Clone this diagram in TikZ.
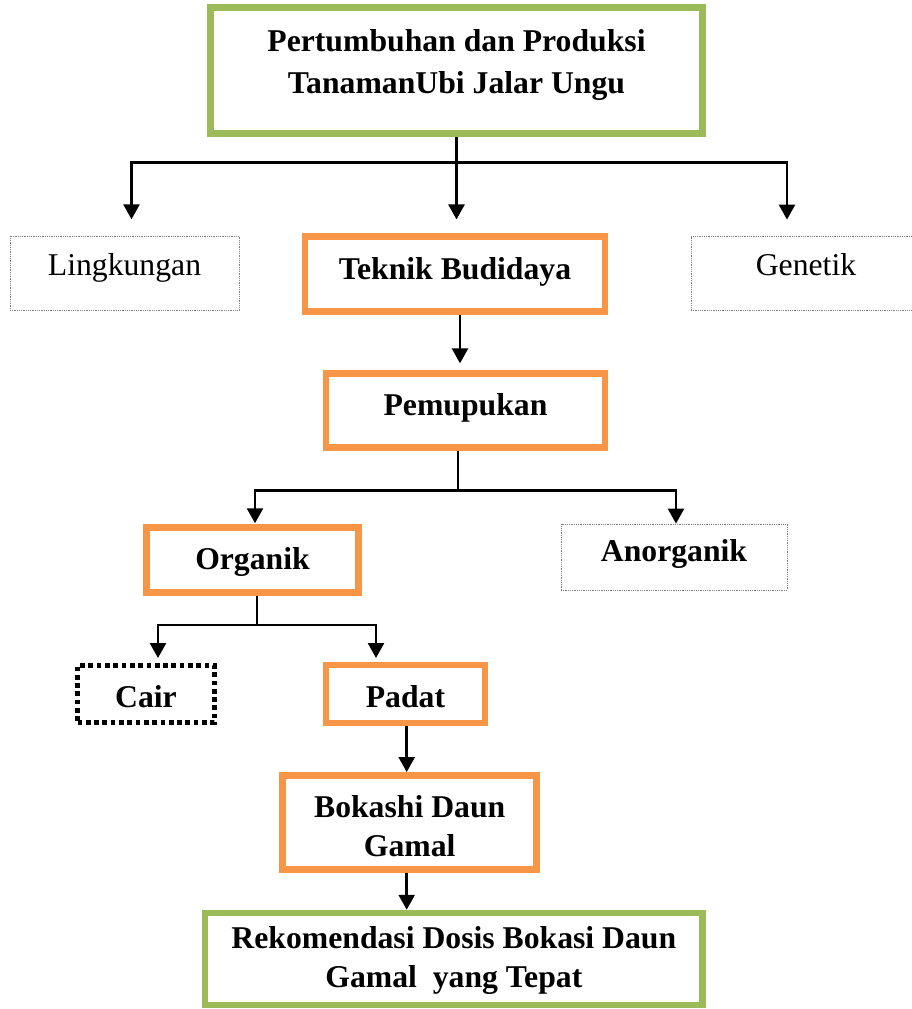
\documentclass[tikz,border=0pt]{standalone}
\usepackage{fontspec}
\setmainfont{Liberation Serif}
\usetikzlibrary{arrows.meta}

\definecolor{hijau}{HTML}{9BBB59}
\definecolor{oranye}{HTML}{F79646}

\tikzset{
    kotakhijau/.style={draw=hijau, line width=6.5pt, inner sep=0pt, align=center, font=\bfseries},
    kotakoranye/.style={draw=oranye, line width=6.5pt, inner sep=0pt, align=center, font=\bfseries},
    kotaktitik/.style={draw=gray, densely dotted, line width=0.8pt, inner sep=0pt},
    kotakcair/.style={draw=black, line width=5pt, dash pattern=on 4.7pt off 3.6pt, inner sep=0pt, font=\bfseries},
    rapat/.style={font=\bfseries\fontsize{31.7}{38.6}\selectfont},
    garis/.style={line width=2.5pt},
    panah/.style={line width=2.5pt, -{Triangle[width=16pt,length=15pt]}}
}

\begin{document}
\fontsize{31.7}{41.5}\selectfont
\begin{tikzpicture}[x=1pt,y=-1pt]
                \clip (0,0) rectangle (912,1009);

                \node[kotakhijau, minimum width=492pt, text height=85.8pt, text depth=40.2pt] (utama) at (456.5,70.5) {Pertumbuhan dan Produksi\\TanamanUbi Jalar Ungu};

                \node[kotaktitik, minimum width=229pt, text height=39pt, text depth=35.7pt] (lingkungan) at (124.5,273.35) {Lingkungan};
                \node[kotakoranye, minimum width=300pt, text height=42.6pt, text depth=32.4pt] (teknik) at (455,274.2) {Teknik Budidaya};
                \node[kotaktitik, minimum width=230pt, text height=39pt, text depth=35pt] (genetik) at (806,273) {Genetik};

                \node[kotakoranye, minimum width=279pt, text height=41.7pt, text depth=32.7pt] (pemupukan) at (465.5,410.5) {Pemupukan};

                \node[kotakoranye, minimum width=211.6pt, text height=41.8pt, text depth=23.4pt] (organik) at (252.5,560.1) {Organik};
                \node[kotaktitik, font=\bfseries, minimum width=226pt, text height=37.7pt, text depth=28.3pt] (anorganik) at (674,557) {Anorganik};

                \node[kotakcair, minimum width=137pt, text height=41.8pt, text depth=15.2pt] (cair) at (146,694) {Cair};
                \node[kotakoranye, minimum width=159pt, text height=42.3pt, text depth=15.7pt] (padat) at (405.5,694) {Padat};

                \node[kotakoranye, rapat, minimum width=254pt, text height=80.7pt, text depth=13.3pt] (bokashi) at (409.7,822.3) {Bokashi Daun\\Gamal};
                \node[kotakhijau, rapat, minimum width=497.7pt, text height=74pt, text depth=18pt] (rekomendasi) at (453.85,959) {Rekomendasi Dosis Bokasi Daun\\Gamal\ \ yang Tepat};

                \coordinate (cabang1) at (456.5,162.3);
                \coordinate (cabang2) at (458,490.7);
                \coordinate (cabang3) at (257,625);

                \draw[garis] (utama.south) -- (cabang1);
                \draw[panah, shorten >=16.3pt] (cabang1) -| ([xshift=7pt]lingkungan.north);
                \draw[panah, shorten >=14pt] (cabang1) -- (cabang1 |- teknik.north);
                \draw[panah, shorten >=16pt] (cabang1) -| ([xshift=-19pt]genetik.north);

                \draw[panah, shorten >=6.7pt] ([xshift=5pt]teknik.south) -- ([xshift=5pt]teknik.south |- pemupukan.north);

                \draw[garis] (cabang2 |- pemupukan.south) -- (cabang2);
                \draw[panah, shorten >=1pt] (cabang2) -| ([xshift=2.5pt]organik.north);
                \draw[panah] (cabang2) -| ([xshift=2pt]anorganik.north);

                \draw[garis] (cabang3 |- organik.south) -- (cabang3);
                \draw[panah, shorten >=5pt] (cabang3) -| ([xshift=12pt]cair.north);
                \draw[panah, shorten >=3.75pt] (cabang3) -| ([xshift=-29.5pt]padat.north);

                \draw[panah] ([xshift=1.2pt]padat.south) -- ([xshift=1.2pt]padat.south |- bokashi.north);
                \draw[panah] ([xshift=-3pt]bokashi.south) -- ([xshift=-3pt]bokashi.south |- rekomendasi.north);
            \end{tikzpicture}
\end{document}
